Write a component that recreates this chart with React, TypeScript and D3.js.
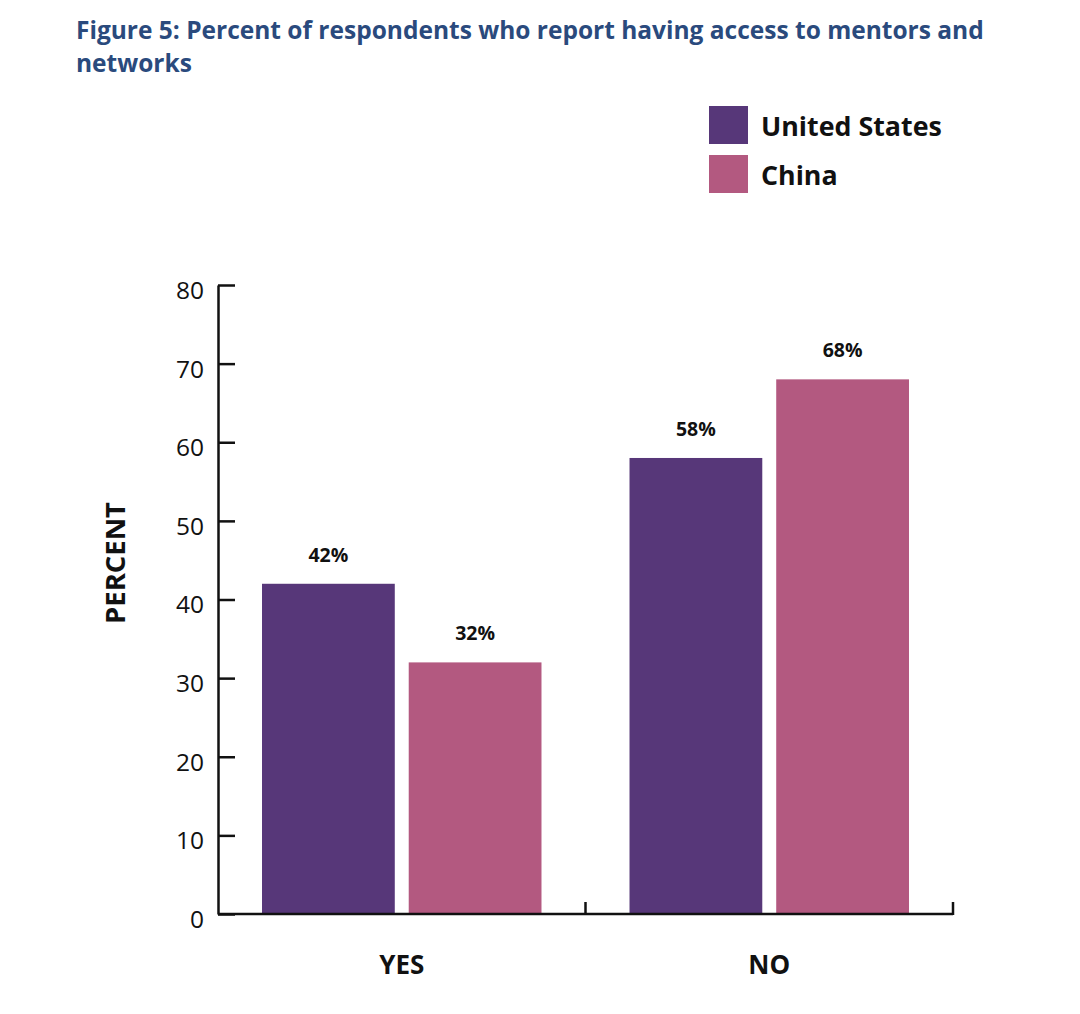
import { useRef, useEffect } from 'react'
import * as d3 from 'd3'

const CATEGORIES = ['YES', 'NO']
const SERIES = ['United States', 'China']
const US_VALUES = [42, 58]
const CHINA_VALUES = [32, 68]
const Y_TICKS = [0, 10, 20, 30, 40, 50, 60, 70, 80]
const COLORS = ['#573779', '#b35980']

const W = 1080
const H = 1014
const MARGIN = { top: 285, right: 127, bottom: 100, left: 218 }
const FONT = "'Open Sans', 'Noto Sans', sans-serif"

export default function App() {
  const svgRef = useRef<SVGSVGElement>(null)

  useEffect(() => {
    if (!svgRef.current) return
    const svg = d3.select(svgRef.current)
    svg.selectAll('*').remove()

    const x0 = MARGIN.left
    const x1 = W - MARGIN.right
    const y0 = H - MARGIN.bottom
    const y1 = MARGIN.top

    const xScale = d3.scaleBand<string>().domain(CATEGORIES).range([x0, x1]).padding(0)
    const inner = d3.scaleBand<string>().domain(SERIES)
      .range([0, xScale.bandwidth()]).paddingInner(0.095).paddingOuter(0.3)
    const yScale = d3.scaleLinear().domain([0, 80]).range([y0, y1])

    // title
    const title = svg.append('text')
      .attr('font-family', FONT).attr('font-weight', 700).attr('font-size', 24.5)
      .attr('fill', '#2a4a7d')
    title.append('tspan').attr('x', 76).attr('y', 39).text('Figure 5: Percent of respondents who report having access to mentors and')
    title.append('tspan').attr('x', 76).attr('y', 72).text('networks')

    // legend
    SERIES.forEach((s, i) => {
      const ly = 106 + i * 49
      svg.append('rect').attr('x', 709).attr('y', ly).attr('width', 39).attr('height', 38)
        .attr('fill', COLORS[i])
      svg.append('text').attr('x', 761).attr('y', ly + 30)
        .attr('font-family', FONT).attr('font-weight', 700).attr('font-size', 26.8)
        .attr('fill', '#111').text(s)
    })

    // bars
    const data = CATEGORIES.map((c, i) => ({ cat: c, vals: [US_VALUES[i], CHINA_VALUES[i]] }))
    data.forEach(d => {
      d.vals.forEach((v, j) => {
        const bx = (xScale(d.cat) ?? 0) + (inner(SERIES[j]) ?? 0)
        svg.append('rect')
          .attr('x', bx).attr('y', yScale(v))
          .attr('width', inner.bandwidth()).attr('height', y0 - yScale(v))
          .attr('fill', COLORS[j])
        svg.append('text')
          .attr('x', bx + inner.bandwidth() / 2).attr('y', yScale(v) - 22)
          .attr('text-anchor', 'middle')
          .attr('font-family', FONT).attr('font-weight', 700).attr('font-size', 19.5)
          .attr('fill', '#111').text(`${v}%`)
      })
    })

    // y axis
    const yAxis = svg.append('g')
      .attr('transform', `translate(${x0},0)`)
      .call(d3.axisRight(yScale).tickValues(Y_TICKS).tickSize(17).tickSizeOuter(0).tickFormat(d3.format('d')))
    yAxis.select('.domain').attr('stroke', '#111').attr('stroke-width', 2.5)
    yAxis.selectAll('.tick line').attr('stroke', '#111').attr('stroke-width', 2.5)
    yAxis.selectAll('.tick text')
      .attr('x', -14).attr('dy', '0.55em').attr('text-anchor', 'end')
      .attr('font-family', FONT).attr('font-size', 24.5).attr('fill', '#111')

    // x axis
    const xAxis = svg.append('g').attr('transform', `translate(0,${y0})`)
    xAxis.append('line').attr('x1', x0).attr('x2', x1).attr('y1', 0).attr('y2', 0)
      .attr('stroke', '#111').attr('stroke-width', 2.5)
    CATEGORIES.forEach(c => {
      const tx = (xScale(c) ?? 0) + xScale.bandwidth()
      xAxis.append('line').attr('x1', tx).attr('x2', tx).attr('y1', 1).attr('y2', -12)
        .attr('stroke', '#111').attr('stroke-width', 2.5)
      xAxis.append('text')
        .attr('x', (xScale(c) ?? 0) + xScale.bandwidth() / 2).attr('y', 60)
        .attr('text-anchor', 'middle')
        .attr('font-family', FONT).attr('font-weight', 700).attr('font-size', 26)
        .attr('fill', '#111').text(c)
    })

    // y label
    svg.append('text')
      .attr('transform', `translate(125,563) rotate(-90)`)
      .attr('text-anchor', 'middle')
      .attr('font-family', FONT).attr('font-weight', 700).attr('font-size', 27.5)
      .attr('fill', '#111').text('PERCENT')
  }, [])

  return (
    <div style={{ position: 'absolute', left: 0, top: 0, background: '#fff' }}>
      <svg ref={svgRef} width={W} height={H} style={{ display: 'block' }} />
    </div>
  )
}
